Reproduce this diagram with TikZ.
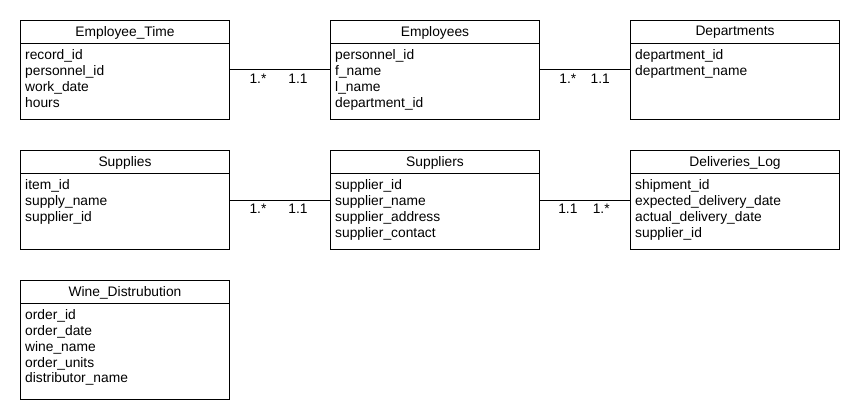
\documentclass[tikz,border=0pt]{standalone}
\usepackage{fontspec}
\setmainfont{Liberation Sans}
\usetikzlibrary{positioning}
\tikzset{
  er-box/.style={draw=black, line width=1pt, minimum width=209pt, minimum height=#1,
    anchor=north west, inner sep=0pt},
  er-title/.style={font=\fontsize{13.8}{16}\selectfont, inner sep=0pt},
  er-attr/.style={font=\fontsize{13.8}{16}\selectfont, anchor=base west, inner sep=0pt},
  er-mult/.style={font=\fontsize{13.8}{16}\selectfont, below=4pt, inner sep=0pt}
}

\begin{document}
\begin{tikzpicture}[x=1pt, y=-1pt]
  \useasboundingbox[fill=white] (0,0) rectangle (860,420);

  % Entity boxes
  \node[er-box=99pt] (empTime) at (20,20) {};
  \node[er-box=99pt] (employees) at (330,20) {};
  \node[er-box=99pt] (departments) at (630,20) {};
  \node[er-box=99pt] (supplies) at (20,150) {};
  \node[er-box=99pt] (suppliers) at (330,150) {};
  \node[er-box=99pt] (delivLog) at (630,150) {};
  \node[er-box=119pt] (wineDist) at (20,280) {};

  % Titles and header lines
  \foreach \ent/\title in {empTime/Employee\_Time, employees/Employees, departments/Departments,
      supplies/Supplies, suppliers/Suppliers, delivLog/Deliveries\_Log, wineDist/Wine\_Distrubution} {
    \node[er-title] (\ent-title) at ([shift={(0,12.5)}]\ent.north) {\title};
    \draw[line width=1pt] ([shift={(0,23.5)}]\ent.north west) -- ([shift={(0,23.5)}]\ent.north east);
  }

  % Attributes
  \foreach \a [count=\i] in {record\_id, personnel\_id, work\_date, hours}
    \node[er-attr] (empTime-a\i) at ([shift={(5,24+15.75*\i)}]empTime.north west) {\a};
  \foreach \a [count=\i] in {personnel\_id, f\_name, l\_name, department\_id}
    \node[er-attr] (employees-a\i) at ([shift={(5,24+15.75*\i)}]employees.north west) {\a};
  \foreach \a [count=\i] in {department\_id, department\_name}
    \node[er-attr] (departments-a\i) at ([shift={(5,24+15.75*\i)}]departments.north west) {\a};
  \foreach \a [count=\i] in {item\_id, supply\_name, supplier\_id}
    \node[er-attr] (supplies-a\i) at ([shift={(5,24+15.75*\i)}]supplies.north west) {\a};
  \foreach \a [count=\i] in {supplier\_id, supplier\_name, supplier\_address, supplier\_contact}
    \node[er-attr] (suppliers-a\i) at ([shift={(5,24+15.75*\i)}]suppliers.north west) {\a};
  \foreach \a [count=\i] in {shipment\_id, expected\_delivery\_date, actual\_delivery\_date, supplier\_id}
    \node[er-attr] (delivLog-a\i) at ([shift={(5,24+15.75*\i)}]delivLog.north west) {\a};
  \foreach \a [count=\i] in {order\_id, order\_date, wine\_name, order\_units, distributor\_name}
    \node[er-attr] (wineDist-a\i) at ([shift={(5,24+15.75*\i)}]wineDist.north west) {\a};

  % Relationships
  \draw[line width=1pt] (empTime.east) -- node[er-mult, pos=.28] {1.*} node[er-mult, pos=.68] {1.1} (employees.west);
  \draw[line width=1pt] (employees.east) -- node[er-mult, pos=.31] {1.*} node[er-mult, pos=.67] {1.1} (departments.west);
  \draw[line width=1pt] (supplies.east) -- node[er-mult, pos=.28] {1.*} node[er-mult, pos=.68] {1.1} (suppliers.west);
  \draw[line width=1pt] (suppliers.east) -- node[er-mult, pos=.31] {1.1} node[er-mult, pos=.68] {1.*} (delivLog.west);
\end{tikzpicture}
\end{document}
